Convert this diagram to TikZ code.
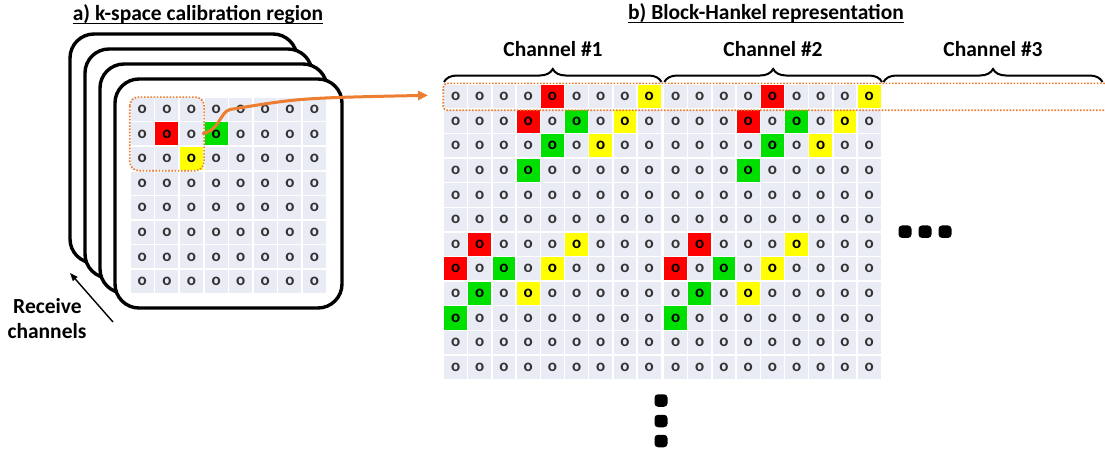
\documentclass[tikz,border=0pt]{standalone}
\usepackage{fontspec}
\setmainfont{Carlito}
\usetikzlibrary{decorations.pathreplacing,arrows.meta}
\definecolor{cellgray}{HTML}{E9EBF5}
\definecolor{cred}{HTML}{FF0000}
\definecolor{cgreen}{HTML}{00E000}
\definecolor{cyellow}{HTML}{FFFF00}
\definecolor{orng}{HTML}{ED7D31}
\definecolor{otext}{HTML}{333333}
\newcommand\setcol[2]{\expandafter\def\csname cc-#1\endcsname{#2}}
% left k-space grid
\setcol{L-2-2}{cred}\setcol{L-2-4}{cgreen}\setcol{L-3-3}{cyellow}
% Hankel blocks
\setcol{H-1-5}{cred}\setcol{H-1-9}{cyellow}
\setcol{H-2-4}{cred}\setcol{H-2-6}{cgreen}\setcol{H-2-8}{cyellow}
\setcol{H-3-5}{cgreen}\setcol{H-3-7}{cyellow}
\setcol{H-4-4}{cgreen}
\setcol{H-7-2}{cred}\setcol{H-7-6}{cyellow}
\setcol{H-8-1}{cred}\setcol{H-8-3}{cgreen}\setcol{H-8-5}{cyellow}
\setcol{H-9-2}{cgreen}\setcol{H-9-4}{cyellow}
\setcol{H-10-1}{cgreen}
\newcommand\pickcol[1]{%
  \ifcsname cc-#1\endcsname
    \edef\thiscol{\csname cc-#1\endcsname}\def\thistext{black}%
  \else
    \def\thiscol{cellgray}\def\thistext{otext}%
  \fi}
\tikzset{
  cellbase/.style={inner sep=0pt, minimum height=23.1pt,
    font=\fontsize{17}{17}\selectfont\bfseries},
  lcell/.style={cellbase, minimum width=23.1pt},
  hcell/.style={cellbase, minimum width=22.7pt},
  layer/.style={draw=black, fill=white, line width=3.4pt, rounded corners=24pt,
    minimum width=227pt, minimum height=229pt, inner sep=0pt},
  lbl/.style={font=\fontsize{21.5}{24}\selectfont\bfseries, inner sep=0pt},
  uline/.style={line width=1.4pt},
  bracestyle/.style={decorate, decoration={brace, amplitude=13pt}, line width=2pt},
  dotsel/.style={draw=orng, line width=1.6pt, dash pattern=on 1.6pt off 1.6pt},
  dotblk/.style={fill=black, minimum width=13pt, minimum height=12.5pt,
    rounded corners=3.5pt, inner sep=0pt},
  linkarrow/.style={draw=orng, line width=3pt, -{Triangle[length=10pt,width=9pt]}},
  chanarrow/.style={draw=black, line width=1.4pt, -{Triangle[length=8pt,width=6pt]}},
}
\begin{document}
\begin{tikzpicture}[x=1pt,y=-1pt]
\useasboundingbox (0,0) rectangle (1105,450);
% titles
\node[lbl, anchor=base] (ta) at (198,20.7) {a) k-space calibration region};
\draw[uline] ([yshift=-2.6pt]ta.base west) -- ([yshift=-2.6pt]ta.base east);
\node[lbl, anchor=base] (tb) at (766,19.5) {b) Block-Hankel representation};
\draw[uline] ([yshift=-2.8pt]tb.base west) -- ([yshift=-2.8pt]tb.base east);
% receive-channel layers
\foreach \k in {3,2,1,0}{
  \node[layer] (layer\k) at ({228.5-15*\k},{193.5-15*\k}) {};
}
% left grid
\foreach \rr in {1,...,8}{\foreach \kk in {1,...,8}{
  \pickcol{L-\rr-\kk}
  \node[lcell, fill=\thiscol, text=\thistext] (L-\rr-\kk)
    at ({130+(\kk-0.5)*24.6},{97+(\rr-0.5)*24.6}) {o};
}}
\draw[dotsel, rounded corners=9pt] (L-1-1.north west) ++(-0.8,-0.5) rectangle ([shift={(0.8,0.5)}]L-3-3.south east);
% Hankel blocks
\foreach \ch/\xo in {1/443.5, 2/663.5}{
  \foreach \rr in {1,...,12}{\foreach \kk in {1,...,9}{
    \pickcol{H-\rr-\kk}
    \node[hcell, fill=\thiscol, text=\thistext] (h\ch-\rr-\kk)
      at ({\xo+(\kk-0.5)*24.2},{84.3+(\rr-0.5)*24.6}) {o};
  }}
}
\draw[dotsel, rounded corners=4pt] (1108,83.3) -- (443.2,83.3) -- (443.2,110.2) -- (1108,110.2);
% braces and channel labels
\coordinate (b1a) at (444,82); \coordinate (b1b) at (661.5,82);
\coordinate (b2a) at (664.3,82); \coordinate (b2b) at (882,82);
\coordinate (b3a) at (883.5,82); \coordinate (b3b) at (1102.5,82);
\draw[bracestyle] (b1a) -- (b1b);
\draw[bracestyle] (b2a) -- (b2b);
\draw[bracestyle] (b3a) -- (b3b);
\node[lbl, anchor=base] (c1) at (553,56) {Channel \#1};
\node[lbl, anchor=base] (c2) at (773,56) {Channel \#2};
\node[lbl, anchor=base] (c3) at (993,56) {Channel \#3};
% ellipses
\node[dotblk] (vd1) at (661,400.5) {};
\node[dotblk] (vd2) at (661,421) {};
\node[dotblk] (vd3) at (661,441) {};
\node[dotblk] (hd1) at (905,231.7) {};
\node[dotblk] (hd2) at (925,231.7) {};
\node[dotblk] (hd3) at (945,231.7) {};
% link arrow
\coordinate (ltip) at (428,95.3);
\draw[linkarrow] ([xshift=-2pt]L-2-4.west) .. controls (220,130) and (220,112) .. (230,109.5)
   .. controls (300,98) .. (ltip);
% receive channels
\node[lbl, anchor=base] (rc1) at (47.5,313) {Receive};
\node[lbl, anchor=base] (rc2) at (47,338) {channels};
\coordinate (ra) at (113,322);
\coordinate (rb) at (70,273);
\draw[chanarrow] (ra) -- (rb);
\end{tikzpicture}
\end{document}
